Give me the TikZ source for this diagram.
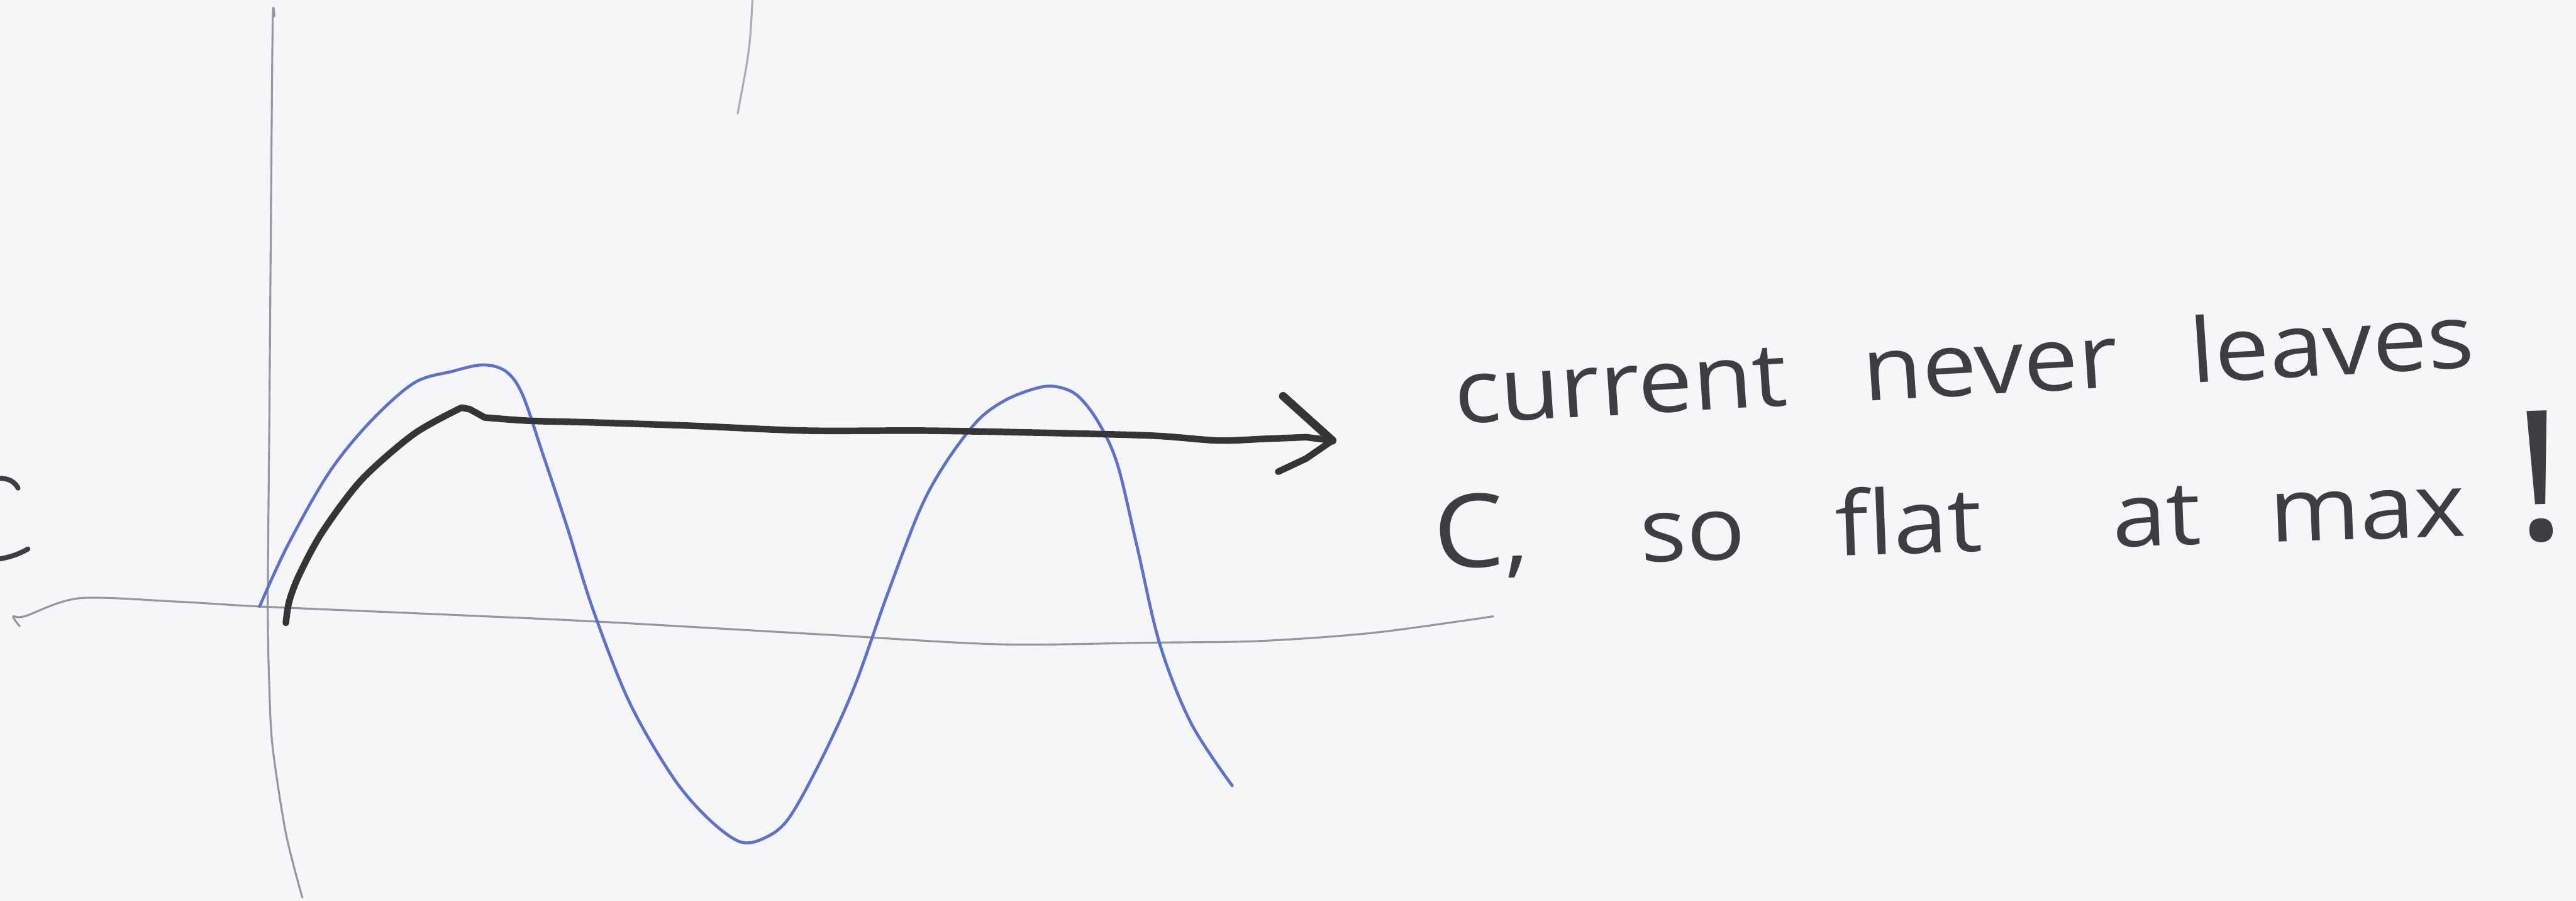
\documentclass[tikz,border=0pt]{standalone}
\usepackage{fontspec}
\setmainfont{Open Sans}
\definecolor{paper}{RGB}{245,246,248}
\definecolor{pencil}{RGB}{62,62,66}
\definecolor{axisgray}{RGB}{150,150,156}
\definecolor{penblue}{RGB}{92,112,212}
\begin{document}
\begin{tikzpicture}[x=1pt,y=-1pt,
  axisline/.style={draw=axisgray,line width=1.2pt,line cap=round,line join=round},
  blueline/.style={draw=penblue,line width=1.8pt,line cap=round,line join=round},
  inkline/.style={draw=pencil!85!black,line width=4pt,line cap=round,line join=round},
  handtext/.style={text=pencil,inner sep=0pt,xscale=1.1,font=\fontsize{54}{60}\selectfont}]
\fill[paper] (0,0) rectangle (1568,548);
\useasboundingbox (0,0) rectangle (1568,548);
% stray pencil stroke at top
\draw[axisline,draw=axisgray!80] plot[smooth] coordinates {(458,0) (456.5,24) (454,42) (449,69)};
% partial letter at left edge
\draw[draw=pencil,line width=3pt,line cap=round] (0,291) .. controls (5,291) and (9,293) .. (11,297);
\draw[draw=pencil,line width=3pt,line cap=round] (0,340) .. controls (6,339) and (12,337) .. (17,334);
% vertical axis
\draw[axisline] plot[smooth,tension=0.5] coordinates {(167,10) (166,12) (165,120) (164,250) (163,367) (164,420) (166,455) (174,507) (184,546)};
% horizontal axis
\draw[axisline] plot[smooth,tension=0.5] coordinates {(12,381) (8,375) (15,375) (48,364) (107,366) (158,369) (250,373) (360,378) (500,386) (608,392) (700,391) (767,390) (836,385) (909,375)};
% blue curve
\draw[blueline] plot[smooth,tension=0.55] coordinates {(158,369) (175,332) (200,288) (225,257) (252,233) (275,226) (294,222) (308,226) (318,240) (330,275) (345,320) (361,371) (383,427) (409,472) (430,497) (450,512) (465,510) (480,498) (500,462) (520,418) (540,362) (560,310) (576,281) (595,256) (611,244) (628,237) (641,235) (655,240) (668,256) (680,282) (692,332) (706,392) (725,440) (750,478)};
% black current curve with arrow
\coordinate (tip) at (811,268);
\draw[inkline] plot[smooth,tension=0.5] coordinates {(174,379) (176,366) (182,350) (196,324) (220,292) (252,264) (281,248)} -- (286,249) -- plot[smooth,tension=0.5] coordinates {(295,254) (322,256) (360,257) (420,259) (490,262) (560,262) (620,263) (700,265) (741,268) (770,267) (795,266)} -- (tip);
\draw[inkline,line width=5pt] (781,241) -- (tip);
\draw[inkline] (tip) -- (795,279) -- (778,287);
% handwritten text
\node[handtext,anchor=base west,rotate=3.5] (line1) at (886,258) {current\hspace{42pt}never\hspace{40pt}leaves};
\node[handtext,anchor=base west,rotate=2] (line2) at (873,346) {{\fontsize{62}{62}\selectfont C},\hspace{62pt}so\hspace{50pt}flat\hspace{72pt}at\hspace{38pt}max};
\node[handtext,anchor=base west,rotate=2,font=\fontsize{110}{110}\selectfont] (bang) at (1531,329) {!};
\end{tikzpicture}
\end{document}
